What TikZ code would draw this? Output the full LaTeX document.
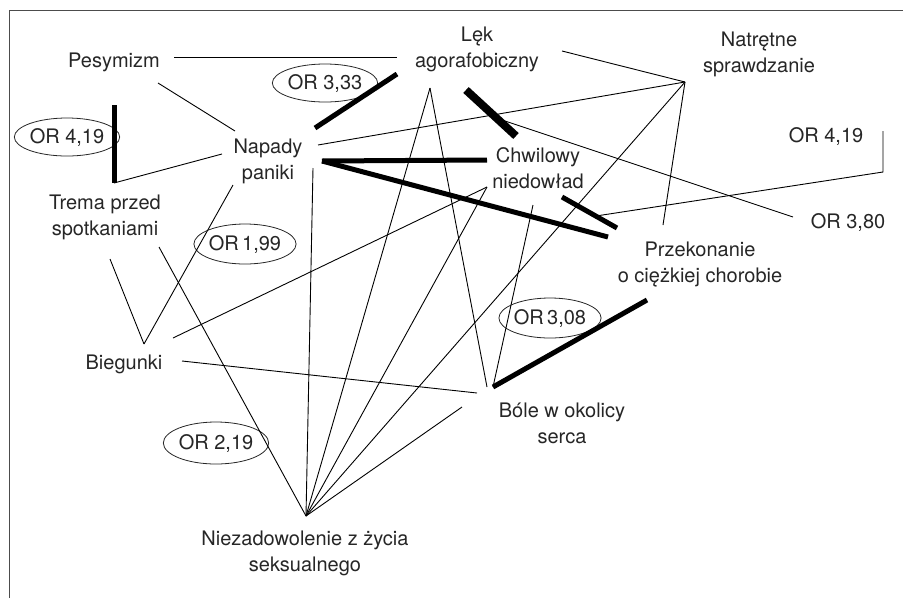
\documentclass[tikz,border=0pt]{standalone}
\usepackage{fontspec}
\setmainfont{TeX Gyre Heros}
\usetikzlibrary{shapes.geometric}

\begin{document}
\begin{tikzpicture}[x=1pt, y=-1pt]
\tikzstyle{factor} = [text=black!85, align=center, inner sep=0pt,
    font=\fontsize{20}{26}\selectfont]
\tikzstyle{oddsratio} = [factor, ellipse, draw=black!85, line width=0.8pt,
    minimum width=86pt, minimum height=38pt]
\tikzstyle{link} = [draw, line width=0.9pt]
\tikzstyle{boldlink} = [draw, line width=5pt]

\useasboundingbox (0,0) rectangle (903,598);
\draw[black!70, line width=1pt] (9,598) -- (9,10.5) -- (903,10.5);

% factors
\node (pes) [factor] at (114,62) {Pesymizm};
\node (lek) [factor] at (477,49) {Lęk\\agorafobiczny};
\node (natr) [factor] at (759,54) {Natrętne\\sprawdzanie};
\node (nap) [factor] at (268,161) {Napady\\paniki};
\node (chw) [factor] at (538,168) {Chwilowy\\niedowład};
\node (trema) [factor] at (105,217) {Trema przed\\spotkaniami};
\node (przek) [factor] at (700,265) {Przekonanie\\o ciężkiej chorobie};
\node (bieg) [factor] at (124,364) {Biegunki};
\node (bole) [factor] at (562,423) {Bóle w okolicy\\serca};
\node (niez) [factor] at (305,553) {Niezadowolenie z życia\\seksualnego};

% odds ratios
\node (orA) [oddsratio] at (67,137) {OR 4,19};
\node (orB) [oddsratio, minimum width=84pt] at (325,83) {OR 3,33};
\node (orC) [oddsratio, minimum width=84pt, minimum height=40pt] at (245,244) {OR\,1,99};
\node (orD) [factor] at (826,136) {OR 4,19};
\node (orE) [factor] at (848,222) {OR 3,80};
\node (orF) [oddsratio, minimum width=84pt, minimum height=40pt] at (550,318) {OR\,3,08};
\node (orG) [oddsratio, minimum width=95pt, minimum height=42pt] at (216,443) {OR 2,19};

% line ends
\coordinate (pesE) at (174,57);
\coordinate (pesS) at (158,83);
\coordinate (lekW) at (397,57);
\coordinate (lekS) at (430,88);
\coordinate (lekE) at (562,51);
\coordinate (lekSE) at (466,90);
\coordinate (natrS) at (685,82);
\coordinate (napNW) at (235,131);
\coordinate (napW) at (222,154);
\coordinate (napNE) at (315,128);
\coordinate (napE) at (318,145);
\coordinate (napEb) at (322,161);
\coordinate (napS) at (313,168);
\coordinate (napSW) at (233,185);
\coordinate (tremaN) at (114,105);
\coordinate (tremaC) at (114,183);
\coordinate (tremaS) at (110,259);
\coordinate (tremaSE) at (159,247);
\coordinate (biegN) at (144,344);
\coordinate (biegNE) at (173,338);
\coordinate (biegE) at (182,361);
\coordinate (chwW) at (487,160);
\coordinate (chwN) at (516,136);
\coordinate (chwS) at (487,187);
\coordinate (chwSE) at (533,205);
\coordinate (lekbar) at (499,119);
\coordinate (przekbarA) at (562,197);
\coordinate (przekbarB) at (617,228);
\coordinate (przekbar) at (596,216);
\coordinate (przekNW) at (608,237);
\coordinate (przekN) at (663,225);
\coordinate (przekSW) at (647,300);
\coordinate (boleNW) at (487,387);
\coordinate (boleN) at (493,387);
\coordinate (boleW) at (477,393);
\coordinate (boleSW) at (462,407);
\coordinate (niezN) at (306,516);
\coordinate (orDs) at (883,131);
\coordinate (orDc) at (883,172);
\coordinate (orEw) at (793,217);

% weak links
\path[link] (pesE) -- (lekW);
\path[link] (pesS) -- (napNW);
\path[link] (tremaC) -- (napW);
\path[link] (napE) -- (natrS);
\path[link] (napS) -- (niezN);
\path[link] (napSW) -- (biegN);
\path[link] (tremaS) -- (biegN);
\path[link] (tremaSE) -- (niezN);
\path[link] (biegNE) -- (chwS);
\path[link] (biegE) -- (boleW);
\path[link] (lekS) -- (niezN);
\path[link] (lekS) -- (boleNW);
\path[link] (lekbar) -- (orEw);
\path[link] (lekE) -- (natrS);
\path[link] (natrS) -- (przekN);
\path[link] (natrS) -- (niezN);
\path[link] (orDs) -- (orDc) -- (przekbar);
\path[link] (chwS) -- (niezN);
\path[link] (chwSE) -- (boleN);
\path[link] (niezN) -- (boleSW);

% strong links
\path[boldlink] (napNE) -- (lekW |- 0,74);
\path[boldlink] (tremaN) -- (tremaC);
\path[boldlink] (napEb) -- (chwW);
\path[boldlink] (napEb) -- (przekNW);
\path[boldlink, line width=8pt] (lekSE) -- (chwN);
\path[boldlink] (przekbarA) -- (przekbarB);
\path[boldlink] (boleN) -- (przekSW);
\end{tikzpicture}
\end{document}
